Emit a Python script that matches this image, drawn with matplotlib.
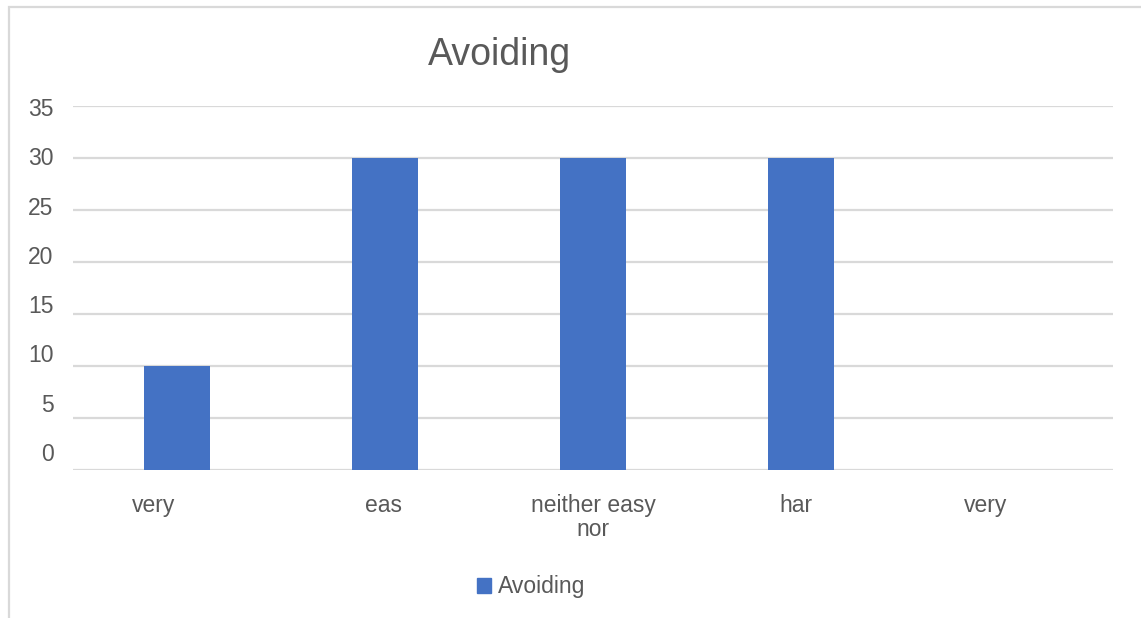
import matplotlib
matplotlib.use("Agg")

import matplotlib.pyplot as plt
import matplotlib.transforms as mtransforms
from matplotlib.patches import Patch, Rectangle

categories = ["very", "eas", "neither easy\nnor", "har", "very"]
values = [10, 30, 30, 30, 0]
series_name = "Avoiding"
y_ticks = [0, 5, 10, 15, 20, 25, 30, 35]

BAR_COLOR = "#4472C4"
TEXT_COLOR = "#595959"
GRID_COLOR = "#D9D9D9"
FONT = "Liberation Sans"
FS = 16.5

plt.rcParams["font.family"] = [FONT, "DejaVu Sans"]

W, H = 1141, 618
fig = plt.figure(figsize=(W / 100, H / 100), dpi=100)
fig.patch.set_facecolor("white")

# light chart frame, running off the right and bottom edges
fig.patches.append(Rectangle((9 / W, -0.1), 1.2, 1.1 - 7 / H, transform=fig.transFigure,
                             fill=False, edgecolor=GRID_COLOR, linewidth=1.6))

ax = fig.add_axes([73 / W, 148 / H, 1040 / W, 364 / H])
x = range(len(categories))
ax.bar(x, values, width=0.317, color=BAR_COLOR, zorder=2)
ax.set_xlim(-0.5, len(categories) - 0.5)
ax.set_ylim(0, 35)

ax.set_yticks(y_ticks)
ax.yaxis.grid(True, color=GRID_COLOR, linewidth=1.6, zorder=0)
ax.set_yticklabels([])
ax.tick_params(axis="y", length=0)
for s in ax.spines.values():
    s.set_visible(False)

ax.set_xticks(list(x))
ax.set_xticklabels(categories, fontsize=FS, color=TEXT_COLOR, linespacing=1.1)
ax.tick_params(axis="x", length=0, pad=17)

# a couple of the truncated labels sit left of their slot
shifts = [-23, -2, 0, -5, -23]
for lbl, dx in zip(ax.get_xticklabels(), shifts):
    lbl.set_transform(lbl.get_transform() + mtransforms.ScaledTranslation(dx / 100, 0, fig.dpi_scale_trans))

# value labels are spaced a little tighter than the gridlines
lab = ax.twinx()
lab.yaxis.set_ticks_position("left")
lab.yaxis.set_label_position("left")
lo, scale = 1.73, 0.948
lab.set_ylim((0 - lo) / scale, (35 - lo) / scale)
lab.set_yticks(y_ticks)
lab.set_yticklabels([str(v) for v in y_ticks], fontsize=FS, color=TEXT_COLOR)
lab.tick_params(axis="y", length=0, pad=14)
for s in lab.spines.values():
    s.set_visible(False)

fig.text(499 / W, 1 - 55 / H, series_name, ha="center", va="center",
         fontsize=27, color=TEXT_COLOR)

fig.legend(handles=[Patch(color=BAR_COLOR, label=series_name)], loc="center",
           bbox_to_anchor=(531 / W, 1 - 587 / H), frameon=False, fontsize=FS,
           labelcolor=TEXT_COLOR, handlelength=0.6, handleheight=0.6, handletextpad=0.3)

fig.savefig("out.png", dpi=100)
